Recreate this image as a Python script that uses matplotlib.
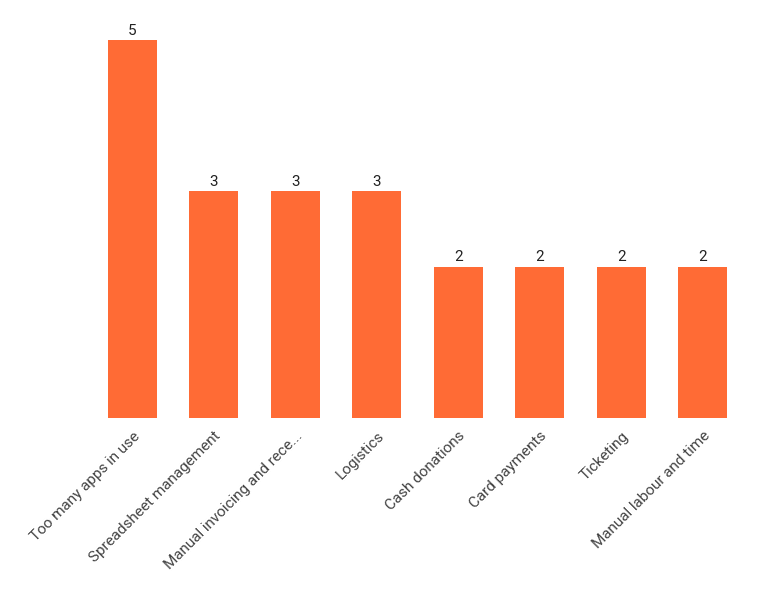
import matplotlib.pyplot as plt

categories = ["Too many apps in use", "Spreadsheet management", "Manual invoicing and rece...",
              "Logistics", "Cash donations", "Card payments", "Ticketing", "Manual labour and time"]
counts = [5, 3, 3, 3, 2, 2, 2, 2]

plt.rcParams['font.family'] = ['Roboto', 'DejaVu Sans']
fig = plt.figure(figsize=(7.58, 5.96), dpi=100)
ax = fig.add_axes([90 / 758, 0.299, 655 / 758, 0.672])

x = range(len(categories))
bars = ax.bar(x, counts, width=0.6, color='#FF6B35')
for b, v in zip(bars, counts):
    ax.text(b.get_x() + b.get_width() / 2, v + 0.03, str(v), ha='center', va='bottom',
            fontsize=11, color='#222222')

ax.set_xlim(-0.52, 7.52)
ax.set_ylim(0, 5.3)
ax.set_xticks(list(x))
ax.set_xticklabels(categories, rotation=45, ha='right', rotation_mode='anchor',
                   fontsize=11, color='#444444')
ax.tick_params(axis='x', length=0, pad=8)
ax.set_yticks([])
for s in ax.spines.values():
    s.set_visible(False)

fig.savefig('out.png', dpi=100)
